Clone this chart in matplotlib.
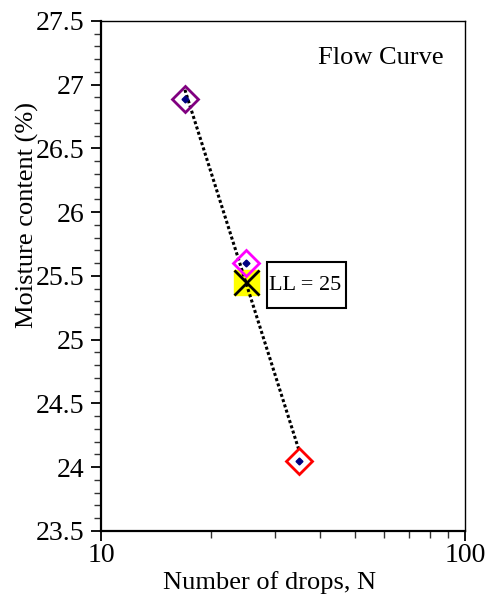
import numpy as np
import matplotlib
matplotlib.use('Agg')
import matplotlib.pyplot as plt
from matplotlib.ticker import MultipleLocator, FixedLocator, LogLocator, NullFormatter, FuncFormatter
from matplotlib.patches import Rectangle

plt.rcParams['font.family'] = ['Liberation Serif', 'DejaVu Serif']

# Liquid limit test (Casagrande cup)
drops = [17, 25, 35]
moisture = [26.89, 25.60, 24.05]
edge_colors = ['#800080', '#ff00ff', '#ff0000']

# moisture content read at 25 blows
ll_drops = 25

# flow curve: straight line of moisture against log N
slope, intercept = np.polyfit(np.log10(drops), moisture, 1)
fit_n = np.array([min(drops), max(drops)])
fit_w = slope * np.log10(fit_n) + intercept
ll_w = slope * np.log10(ll_drops) + intercept

fig = plt.figure(figsize=(4.88, 6.01), dpi=100)
ax = fig.add_axes([0.207, 0.1165, 0.746, 0.8486])

ax.plot(ll_drops, ll_w, 's', ms=18, color='#ffff00', zorder=2)
ax.plot(fit_n, fit_w, ls=(0, (1, 0.8)), color='black', lw=2.2, zorder=3)
for n, w, c in zip(drops, moisture, edge_colors):
    ax.plot(n, w, 'D', ms=13, mfc='none', mec=c, mew=2, zorder=4)
ax.plot(drops, moisture, 'D', ms=3.5, color='#000080', ls='none', zorder=5)
ax.plot(ll_drops, ll_w, 'x', ms=18, mew=2, color='black', zorder=6)

# LL label box
ax.add_patch(Rectangle((0.456, 0.437), 0.217, 0.09, transform=ax.transAxes,
                       fc='white', ec='black', lw=1.5, zorder=7))
ax.text(0.56, 0.482, 'LL = %d' % round(ll_w), transform=ax.transAxes,
        ha='center', va='center', fontsize=16, zorder=8)

ax.text(0.769, 0.927, 'Flow Curve', transform=ax.transAxes,
        ha='center', va='center', fontsize=19)

ax.set_xscale('log')
ax.set_xlim(10, 100)
ax.set_ylim(23.5, 27.5)

ax.xaxis.set_major_locator(FixedLocator([10, 100]))
ax.xaxis.set_minor_locator(LogLocator(base=10, subs=np.arange(2, 10)))
ax.xaxis.set_major_formatter(FuncFormatter(lambda v, p: '%g' % v))
ax.xaxis.set_minor_formatter(NullFormatter())
ax.yaxis.set_major_locator(MultipleLocator(0.5))
ax.yaxis.set_minor_locator(MultipleLocator(0.1))
ax.yaxis.set_major_formatter(FuncFormatter(lambda v, p: '%g' % v))

ax.tick_params(which='major', direction='out', length=7, width=1.3, labelsize=20)
ax.tick_params(which='minor', direction='out', length=5, width=1, color='#333333')
ax.tick_params(axis='y', which='major', pad=5)
ax.tick_params(axis='x', which='major', pad=2)

ax.spines['left'].set_linewidth(1.6)
ax.spines['bottom'].set_linewidth(1.6)
ax.spines['top'].set_linewidth(1)
ax.spines['right'].set_linewidth(1)

ax.set_xlabel('Number of drops, N', fontsize=19)
ax.set_ylabel('Moisture content (%)', fontsize=19)
ax.xaxis.label.set_va('center')
ax.yaxis.label.set_va('center')
ax.xaxis.set_label_coords(0.464, -0.102)
ax.yaxis.set_label_coords(-0.203, 0.62)

fig.savefig('out.png', dpi=100)
